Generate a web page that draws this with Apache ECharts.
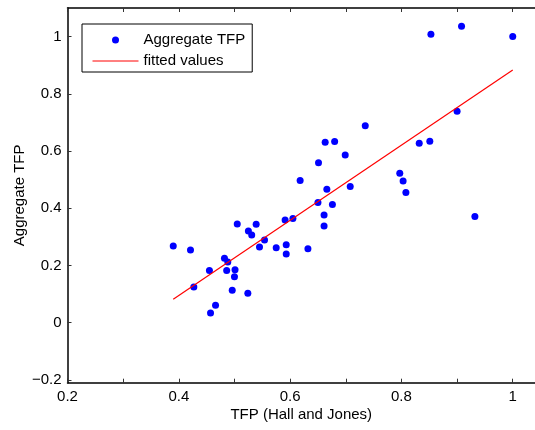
<!DOCTYPE html>
<html>
<head>
<meta charset="utf-8">
<title>Aggregate TFP</title>
<script src="https://cdn.jsdelivr.net/npm/echarts@6/dist/echarts.min.js"></script>
<style>
  html, body { margin: 0; padding: 0; background: #fff; }
  #chart { width: 535px; height: 430px; }
</style>
</head>
<body>
<div id="chart"></div>
<script>
// TFP (Hall and Jones) on x, aggregate TFP on y
const tfpHallJones = [
  0.390, 0.421, 0.427, 0.455, 0.482, 0.488, 0.486, 0.501, 0.500, 0.496,
  0.524, 0.466, 0.457, 0.505, 0.525, 0.531, 0.539, 0.554, 0.545, 0.575,
  0.591, 0.593, 0.593, 0.605, 0.632, 0.735, 0.663, 0.680, 0.699, 0.651,
  0.618, 0.666, 0.708, 0.650, 0.676, 0.661, 0.661, 0.797, 0.803, 0.808,
  0.853, 0.908, 1.000, 0.900, 0.832, 0.851, 0.932
]
const aggregateTfp = [
  0.268, 0.254, 0.125, 0.182, 0.225, 0.212, 0.182, 0.185, 0.160, 0.113,
  0.103, 0.061, 0.034, 0.345, 0.320, 0.306, 0.344, 0.289, 0.264, 0.262,
  0.359, 0.272, 0.240, 0.364, 0.258, 0.688, 0.631, 0.633, 0.586, 0.559,
  0.497, 0.466, 0.476, 0.420, 0.413, 0.376, 0.338, 0.522, 0.495, 0.455,
  1.008, 1.036, 1.000, 0.739, 0.627, 0.634, 0.371
]
// fitted line end points
const fitX = [0.390, 1.000]
const fitY = [0.082, 0.883]

const xLabelValues = [0.2, 0.4, 0.6, 0.8, 1]
const xTickValues = [0.2, 0.3, 0.4, 0.5, 0.6, 0.7, 0.8, 0.9, 1]
const yTickValues = [-0.2, 0, 0.2, 0.4, 0.6, 0.8, 1]

const fmt = v => {
  const s = String(Math.round(v * 10) / 10)
  return s.replace('-', '\u2212')
}

const chart = echarts.init(document.getElementById('chart'))

const axisLine = { show: true, onZero: false, lineStyle: { color: '#000', width: 1.5 } }
const axisTick = { inside: true, length: 4, lineStyle: { color: '#333', width: 1 } }

chart.setOption({
  animation: false,
  backgroundColor: '#fff',
  textStyle: { fontFamily: 'Liberation Sans, Arial, sans-serif' },
  grid: { left: 67.5, right: 0, top: 8, bottom: 47.3, outerBoundsMode: 'none' },
  legend: {
    orient: 'vertical',
    left: 82,
    top: 24,
    padding: [6, 7, 1, 10],
    itemGap: 1,
    itemWidth: 46,
    itemHeight: 7,
    borderColor: '#000',
    borderWidth: 1,
    backgroundColor: '#fff',
    textStyle: { color: '#000', fontSize: 15, lineHeight: 20 },
    data: [
      'Aggregate TFP',
      { name: 'fitted values', itemStyle: { opacity: 0 }, lineStyle: { width: 1 } }
    ]
  },
  xAxis: [{
    type: 'value',
    min: 0.2,
    max: 1.04,
    name: 'TFP (Hall and Jones)',
    nameLocation: 'middle',
    nameGap: 25,
    nameMoveOverlap: false,
    nameTextStyle: { color: '#000', fontSize: 15 },
    axisLine,
    axisTick: Object.assign({ customValues: xTickValues }, axisTick),
    axisLabel: { customValues: xLabelValues, formatter: fmt, color: '#000', fontSize: 15, margin: 7 },
    splitLine: { show: false }
  }, {
    type: 'value',
    position: 'top',
    min: 0.2,
    max: 1.04,
    axisLine,
    axisTick: Object.assign({ customValues: xTickValues }, axisTick),
    axisLabel: { show: false },
    splitLine: { show: false }
  }],
  yAxis: {
    type: 'value',
    min: -0.21,
    max: 1.1,
    name: 'Aggregate TFP',
    nameLocation: 'middle',
    nameGap: 40,
    nameMoveOverlap: false,
    nameTextStyle: { color: '#000', fontSize: 15 },
    axisLine,
    axisTick: Object.assign({ customValues: yTickValues }, axisTick),
    axisLabel: { customValues: yTickValues, formatter: fmt, color: '#000', fontSize: 15, margin: 6 },
    splitLine: { show: false }
  },
  series: [{
    name: 'Aggregate TFP',
    type: 'scatter',
    symbol: 'circle',
    symbolSize: 7,
    itemStyle: { color: '#0000ff', opacity: 1 },
    data: tfpHallJones.map((x, i) => [x, aggregateTfp[i]])
  }, {
    name: 'fitted values',
    type: 'line',
    symbol: 'none',
    lineStyle: { color: '#ff0000', width: 1.2 },
    itemStyle: { color: '#ff0000' },
    data: fitX.map((x, i) => [x, fitY[i]])
  }]
})
</script>
</body>
</html>
